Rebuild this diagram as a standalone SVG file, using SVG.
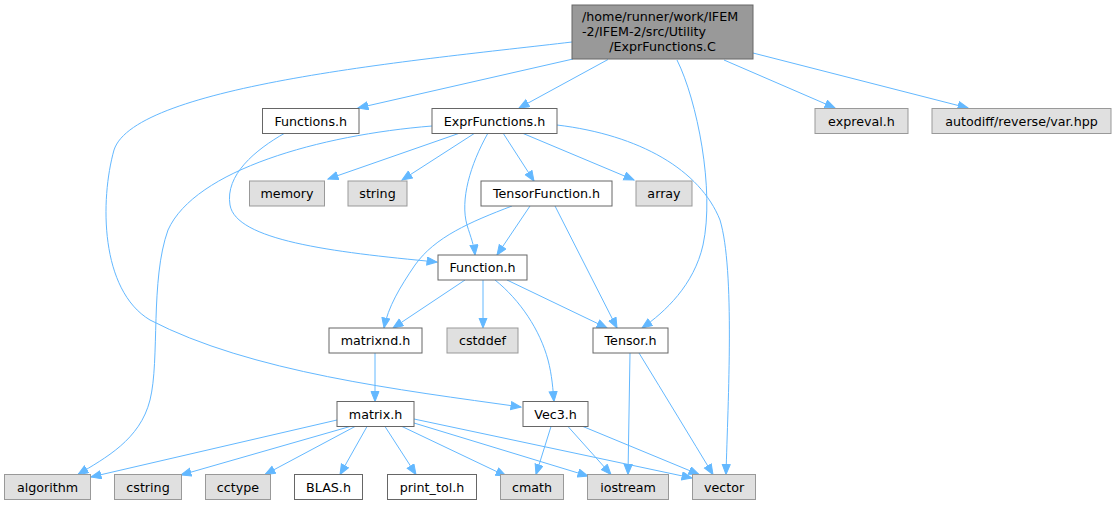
<svg xmlns="http://www.w3.org/2000/svg" width="1115" height="505" viewBox="0 0 1115 505">
<style>
  .n rect { stroke-width: 1; }
  .w rect { fill: #ffffff; stroke: #666666; }
  .g rect { fill: #e0e0e0; stroke: #999999; }
  .root rect { fill: #999999; stroke: #666666; }
  text { font-family: "DejaVu Sans", sans-serif; font-size: 12.7px; fill: #000000; }
  .c { text-anchor: middle; }
  .edges path { fill: none; stroke: #63b8ff; stroke-width: 1; marker-end: url(#arr); }
</style>
<defs>
  <marker id="arr" markerUnits="userSpaceOnUse" markerWidth="12" markerHeight="10" refX="10.5" refY="4.5" orient="auto">
    <path d="M0.5,0.5 L10.5,4.5 L0.5,8.5 z" fill="#63b8ff" stroke="#63b8ff" stroke-width="1"/>
  </marker>
</defs>
<rect width="1115" height="505" fill="#ffffff"/>
<g class="edges">
  <path d="M573,59 L358,108"/>
  <path d="M608,59.5 L519,108"/>
  <path d="M677,60 C 697,100 715,190 703,245 C 694,285 665,312 642,328"/>
  <path d="M724,60 L835,108"/>
  <path d="M753,53 L968,108"/>
  <path d="M572,42 C 420,60 135,85 114,150 C 100,200 100,290 150,320 C 250,372 400,390 521,407"/>
  <path d="M285,133 C 255,150 225,175 230,205 C 236,240 330,252 437,262"/>
  <path d="M460,133 L328,179"/>
  <path d="M475,133 L402,180"/>
  <path d="M503,133 L534,181"/>
  <path d="M522,133 L634,180"/>
  <path d="M488,133 C 470,165 460,200 467,225 C 471,238 474,245 475,255"/>
  <path d="M557,125 C 640,135 700,170 720,220 C 735,270 728,400 726,474.5"/>
  <path d="M432,126 C 320,135 195,170 168,230 C 150,280 160,360 150,400 C 140,440 105,458 78,474.5"/>
  <path d="M530,206 L497,255"/>
  <path d="M512,206 C 470,222 435,237 415,265 C 400,287 388,307 384,328"/>
  <path d="M555,206 L617,328"/>
  <path d="M465,280 L393,328"/>
  <path d="M483,280 L483,328"/>
  <path d="M507,280 L607,328"/>
  <path d="M495,280 C 520,300 540,330 548,360 C 552,375 553,390 554,401.5"/>
  <path d="M375,353 L375,401.5"/>
  <path d="M630,353 L628,474.5"/>
  <path d="M639,353 Q 680,420 713,474.5"/>
  <path d="M337,420 L91,477"/>
  <path d="M350,426.5 L181,475"/>
  <path d="M355,426.5 L265,474.5"/>
  <path d="M367,426.5 L340,474.5"/>
  <path d="M385,426.5 L416,474.5"/>
  <path d="M402,426.5 L506,476"/>
  <path d="M414,423 L588,476"/>
  <path d="M414,419 L692,478"/>
  <path d="M551,426.5 L536,474.5"/>
  <path d="M568,426.5 L611,474.5"/>
  <path d="M583,426.5 L699,474.5"/>
</g>
<g id="node-root" class="n root"><rect x="572" y="5" width="181" height="54"/>
  <text x="582" y="21">/home/runner/work/IFEM</text>
  <text x="582" y="36">-2/IFEM-2/src/Utility</text>
  <text class="c" x="662.5" y="51">/ExprFunctions.C</text></g>
<g id="node-functions" class="n w"><rect x="262.5" y="108.5" width="96.5" height="25"/><text class="c" x="310.75" y="125.5">Functions.h</text></g>
<g id="node-exprfunctions" class="n w"><rect x="432" y="108.5" width="125" height="25"/><text class="c" x="494.5" y="125.5">ExprFunctions.h</text></g>
<g id="node-expreval" class="n g"><rect x="815" y="108.5" width="93" height="25"/><text class="c" x="861.5" y="125.5">expreval.h</text></g>
<g id="node-autodiff" class="n g"><rect x="932" y="108.5" width="179" height="25"/><text class="c" x="1021.5" y="125.5">autodiff/reverse/var.hpp</text></g>
<g id="node-memory" class="n g"><rect x="249.5" y="181" width="75" height="25"/><text class="c" x="287" y="198">memory</text></g>
<g id="node-string" class="n g"><rect x="348" y="181" width="59" height="25"/><text class="c" x="377.5" y="198">string</text></g>
<g id="node-tensorfunction" class="n w"><rect x="481" y="181" width="131" height="25"/><text class="c" x="546.5" y="198">TensorFunction.h</text></g>
<g id="node-array" class="n g"><rect x="636" y="181" width="56" height="25"/><text class="c" x="664" y="198">array</text></g>
<g id="node-function" class="n w"><rect x="438" y="255" width="89" height="25"/><text class="c" x="482.5" y="272">Function.h</text></g>
<g id="node-matrixnd" class="n w"><rect x="329" y="328" width="93" height="25"/><text class="c" x="375.5" y="345">matrixnd.h</text></g>
<g id="node-cstddef" class="n g"><rect x="447" y="328" width="71" height="25"/><text class="c" x="482.5" y="345">cstddef</text></g>
<g id="node-tensor" class="n w"><rect x="593" y="328" width="75" height="25"/><text class="c" x="630.5" y="345">Tensor.h</text></g>
<g id="node-matrix" class="n w"><rect x="337" y="401.5" width="77" height="25"/><text class="c" x="375.5" y="418.5">matrix.h</text></g>
<g id="node-vec3" class="n w"><rect x="523" y="401.5" width="65" height="25"/><text class="c" x="555.5" y="418.5">Vec3.h</text></g>
<g id="node-algorithm" class="n g"><rect x="4.5" y="474.5" width="86" height="25"/><text class="c" x="47.5" y="491.5">algorithm</text></g>
<g id="node-cstring" class="n g"><rect x="114.5" y="474.5" width="67" height="25"/><text class="c" x="148" y="491.5">cstring</text></g>
<g id="node-cctype" class="n g"><rect x="205.5" y="474.5" width="65" height="25"/><text class="c" x="238" y="491.5">cctype</text></g>
<g id="node-blas" class="n w"><rect x="294.5" y="474.5" width="68" height="25"/><text class="c" x="328.5" y="491.5">BLAS.h</text></g>
<g id="node-printtol" class="n w"><rect x="387.5" y="474.5" width="89" height="25"/><text class="c" x="432" y="491.5">print_tol.h</text></g>
<g id="node-cmath" class="n g"><rect x="500.5" y="474.5" width="63" height="25"/><text class="c" x="532" y="491.5">cmath</text></g>
<g id="node-iostream" class="n g"><rect x="587.5" y="474.5" width="81" height="25"/><text class="c" x="628" y="491.5">iostream</text></g>
<g id="node-vector" class="n g"><rect x="692.5" y="474.5" width="63" height="25"/><text class="c" x="724" y="491.5">vector</text></g>
</svg>
